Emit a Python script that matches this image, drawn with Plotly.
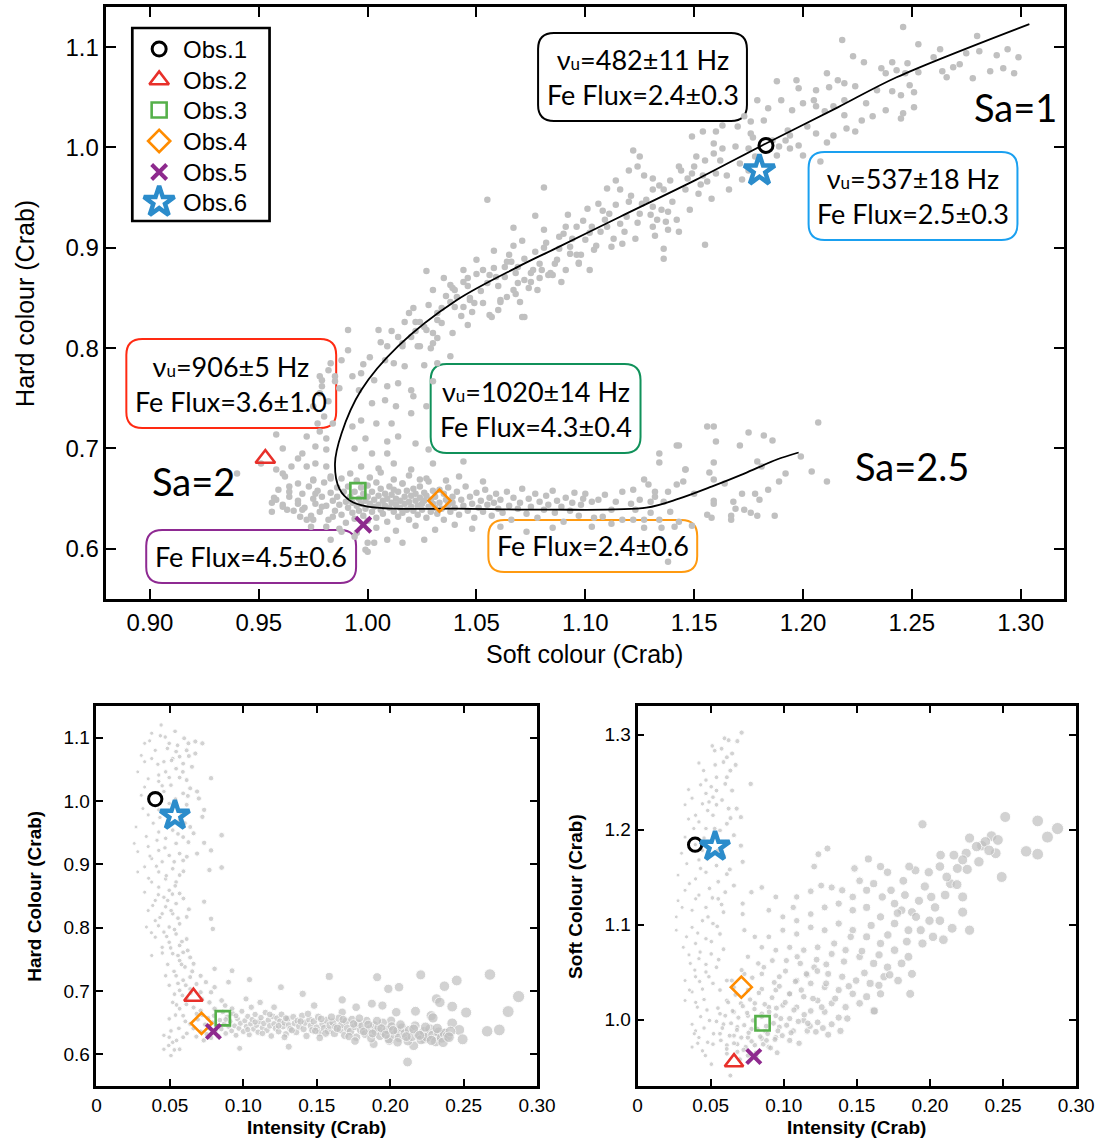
import plotly.graph_objects as go

W, H = 1101, 1139
PAGE_W = 1118  # page width; the capture is squeezed back to 1101 px

# ---------------- data ----------------
obs_names = ["Obs.1", "Obs.2", "Obs.3", "Obs.4", "Obs.5", "Obs.6"]
obs_soft_top = [1.183, 0.953, 0.9955, 1.033, 0.998, 1.180]
obs_hard_top = [1.002, 0.690, 0.658, 0.648, 0.624, 0.977]
obs_int_bl = [0.040, 0.066, 0.086, 0.0715, 0.0796, 0.0534]
obs_hard_bl = [1.003, 0.691, 0.657, 0.649, 0.636, 0.977]
obs_int_br = [0.0394, 0.066, 0.0855, 0.071, 0.0795, 0.053]
obs_soft_br = [1.184, 0.955, 0.996, 1.034, 0.961, 1.182]

# track drawn through the colour-colour diagram
track_soft = [1.304, 1.243, 1.216, 1.183, 1.151, 1.116, 1.085, 1.069, 1.041, 1.014, 0.997,
              0.988, 0.985, 0.987, 0.992, 1.000, 1.012, 1.040, 1.084, 1.128, 1.143, 1.158,
              1.173, 1.188, 1.198]
track_hard = [1.123, 1.070, 1.040, 1.004, 0.968, 0.931, 0.898, 0.881, 0.848, 0.802, 0.758,
              0.715, 0.685, 0.660, 0.648, 0.642, 0.640, 0.640, 0.639, 0.641, 0.650, 0.662,
              0.675, 0.689, 0.696]

# colour-colour diagram: (soft, hard)
cc_upper = [
    (1.246, 1.120), (1.218, 1.107), (1.253, 1.103), (1.280, 1.111), (1.263, 1.098), (1.294, 1.098),
    (1.289, 1.092), (1.299, 1.090), (1.275, 1.094), (1.260, 1.090), (1.223, 1.091), (1.228, 1.085),
    (1.241, 1.085), (1.248, 1.084), (1.253, 1.075), (1.264, 1.076), (1.269, 1.080), (1.272, 1.083),
    (1.281, 1.096), (1.286, 1.076), (1.292, 1.079), (1.297, 1.074), (1.278, 1.069), (1.266, 1.070),
    (1.236, 1.079), (1.243, 1.077), (1.211, 1.074), (1.216, 1.067), (1.219, 1.064), (1.197, 1.067),
    (1.188, 1.066), (1.206, 1.057), (1.198, 1.059), (1.212, 1.060), (1.224, 1.061), (1.234, 1.057),
    (1.241, 1.056), (1.245, 1.052), (1.251, 1.055), (1.249, 1.062), (1.247, 1.074), (1.238, 1.074),
    (1.229, 1.044), (1.219, 1.047), (1.214, 1.041), (1.210, 1.036), (1.219, 1.032), (1.227, 1.027),
    (1.232, 1.031), (1.238, 1.037), (1.245, 1.029), (1.251, 1.040), (1.246, 1.034), (1.224, 1.016),
    (1.220, 1.019), (1.214, 1.012), (1.211, 1.005), (1.206, 1.014), (1.202, 1.021), (1.194, 1.012),
    (1.192, 1.007), (1.189, 1.001), (1.194, 0.999), (1.198, 1.002), (1.200, 0.992), (1.208, 0.986),
    (1.188, 0.992), (1.193, 1.017), (1.195, 1.037), (1.200, 1.044), (1.206, 1.041), (1.205, 1.047),
    (1.190, 1.047), (1.184, 1.039), (1.179, 1.047), (1.182, 1.027), (1.176, 1.026), (1.173, 1.031),
    (1.170, 1.021), (1.163, 1.022), (1.160, 1.016), (1.154, 1.016), (1.149, 1.011), (1.159, 1.004),
    (1.163, 0.999), (1.159, 0.994), (1.155, 0.987), (1.151, 0.991), (1.149, 0.974), (1.144, 0.977),
    (1.143, 0.981), (1.154, 0.972), (1.160, 0.974), (1.165, 0.972), (1.171, 0.984), (1.175, 0.977),
    (1.178, 0.991), (1.175, 0.999), (1.176, 1.014), (1.186, 1.007), (1.152, 0.954), (1.158, 0.949),
    (1.153, 0.963), (1.147, 0.969), (1.139, 0.967), (1.136, 0.958), (1.131, 0.958), (1.131, 0.969),
    (1.127, 0.972), (1.125, 0.991), (1.122, 0.997), (1.120, 0.977), (1.124, 0.981), (1.116, 0.958),
    (1.114, 0.967), (1.110, 0.959), (1.120, 0.946), (1.126, 0.944), (1.131, 0.941), (1.135, 0.938),
    (1.138, 0.936), (1.133, 0.928), (1.137, 0.926), (1.131, 0.921), (1.143, 0.916), (1.138, 0.918),
    (1.130, 0.933), (1.125, 0.934), (1.119, 0.931), (1.116, 0.924), (1.109, 0.928), (1.111, 0.934),
    (1.106, 0.944), (1.101, 0.939), (1.103, 0.921), (1.107, 0.916), (1.113, 0.909), (1.117, 0.904),
    (1.112, 0.901), (1.104, 0.898), (1.100, 0.908), (1.096, 0.921), (1.092, 0.933), (1.090, 0.914),
    (1.088, 0.911), (1.093, 0.901), (1.096, 0.893), (1.097, 0.884), (1.091, 0.878), (1.085, 0.873),
    (1.123, 0.909), (1.136, 0.889), (1.155, 0.903), (1.136, 0.899),
    (1.046, 0.862), (1.050, 0.874), (1.052, 0.857), (1.058, 0.880), (1.060, 0.862), (1.063, 0.871),
    (1.065, 0.893), (1.068, 0.875), (1.072, 0.889), (1.074, 0.860), (1.077, 0.896), (1.079, 0.870),
    (1.082, 0.905), (1.086, 0.884), (1.088, 0.899), (1.091, 0.921), (1.094, 0.909), (1.098, 0.893),
    (1.099, 0.927), (1.102, 0.915), (1.105, 0.902), (1.108, 0.937), (1.110, 0.921), (1.114, 0.943),
    (1.118, 0.916), (1.121, 0.952), (1.124, 0.925), (1.128, 0.948), (1.132, 0.912), (1.134, 0.962),
    (1.140, 0.946), (1.142, 0.928), (1.146, 0.958), (1.148, 0.938), (1.150, 0.981), (1.156, 0.966),
    (1.162, 0.987), (1.166, 0.958), (1.169, 1.001), (1.172, 0.968), (1.177, 1.010), (1.043, 0.832),
    (1.036, 0.852), (1.028, 0.843), (1.021, 0.840), (1.017, 0.826), (1.011, 0.817), (1.006, 0.806),
    (1.001, 0.791), (0.998, 0.784), (1.044, 0.878), (1.050, 0.888), (1.058, 0.897), (1.035, 0.870),
    (1.030, 0.858), (1.048, 0.836), (1.053, 0.845), (1.064, 0.851), (1.078, 0.858), (1.089, 0.866),
]
cc_middle = [
    (1.055, 0.948), (1.081, 0.960), (1.077, 0.932), (1.067, 0.920), (1.081, 0.918), (1.071, 0.907),
    (1.067, 0.902), (1.081, 0.900), (1.027, 0.877), (1.063, 0.881), (1.066, 0.886), (1.046, 0.870),
    (1.059, 0.871), (1.055, 0.865), (1.069, 0.865), (1.072, 0.868), (1.075, 0.875), (1.080, 0.878),
    (1.083, 0.873), (1.067, 0.858), (1.068, 0.854), (1.061, 0.846), (1.070, 0.846), (1.060, 0.838),
    (1.071, 0.831), (1.057, 0.831), (1.039, 0.860), (1.041, 0.851), (1.038, 0.846), (1.047, 0.850),
    (1.049, 0.845), (1.044, 0.841), (1.034, 0.840), (1.032, 0.828), (1.024, 0.826), (1.019, 0.835),
    (1.022, 0.817), (1.027, 0.818), (1.032, 0.810), (1.039, 0.815), (1.046, 0.823), (1.030, 0.805),
    (1.024, 0.802), (1.005, 0.818), (0.991, 0.818), (1.016, 0.805), (1.009, 0.802),
    (1.038, 0.863), (1.040, 0.858), (1.044, 0.866), (1.053, 0.878), (1.056, 0.873), (1.064, 0.886),
    (1.069, 0.881), (1.076, 0.878), (1.079, 0.884), (1.084, 0.875), (1.087, 0.888), (1.093, 0.894),
    (1.097, 0.885), (1.102, 0.878), (1.075, 0.866), (1.061, 0.848), (1.056, 0.833), (1.072, 0.831),
    (1.047, 0.848), (1.040, 0.841), (1.032, 0.835), (1.034, 0.825), (1.030, 0.815), (1.026, 0.821),
    (1.022, 0.826), (1.020, 0.811), (1.023, 0.802), (1.029, 0.800), (1.038, 0.792), (1.032, 0.785),
    (1.016, 0.802), (1.014, 0.811), (1.008, 0.788), (1.012, 0.785), (1.017, 0.782), (1.026, 0.783),
    (1.030, 0.767), (1.020, 0.758), (1.014, 0.765), (1.009, 0.762), (1.003, 0.768), (0.997, 0.775),
    (0.993, 0.772), (0.996, 0.758), (1.002, 0.745), (1.008, 0.748), (1.013, 0.742), (1.021, 0.752),
    (1.027, 0.742), (1.020, 0.735), (1.011, 0.725), (1.004, 0.725), (0.997, 0.728), (0.993, 0.722),
    (0.999, 0.710), (1.009, 0.707), (1.014, 0.712), (1.022, 0.705), (1.028, 0.699), (1.009, 0.695),
    (1.002, 0.695), (0.994, 0.700), (0.997, 0.682), (1.005, 0.680), (1.012, 0.685), (1.020, 0.679),
    (1.030, 0.685), (1.044, 0.687), (1.024, 0.669), (1.016, 0.665), (0.991, 0.798), (0.988, 0.788),
    (0.985, 0.772), (0.982, 0.778), (0.979, 0.768), (0.978, 0.755), (0.982, 0.747), (0.975, 0.742),
    (0.980, 0.732), (0.984, 0.725), (0.978, 0.717), (0.972, 0.712), (0.976, 0.702), (0.981, 0.699),
    (0.970, 0.695), (0.965, 0.682), (0.976, 0.685), (0.981, 0.682), (0.962, 0.672), (0.968, 0.665),
    (0.975, 0.669), (0.959, 0.659), (0.964, 0.652), (0.956, 0.646), (0.961, 0.642), (0.970, 0.639),
    (0.968, 0.645), (0.976, 0.655), (0.979, 0.642), (0.984, 0.632), (0.975, 0.629), (0.981, 0.622),
    (0.988, 0.617), (0.994, 0.612), (1.000, 0.597), (1.003, 0.606), (1.009, 0.609), (1.016, 0.606),
    (1.026, 0.609), (0.985, 0.767), (0.961, 0.700), (0.958, 0.679), (0.951, 0.685), (0.987, 0.760),
    (0.940, 0.675), (0.958, 0.714), (0.968, 0.690), (0.972, 0.682), (0.961, 0.675), (0.964, 0.662),
    (0.958, 0.649), (0.956, 0.637), (0.963, 0.639), (0.969, 0.632), (0.974, 0.622), (0.972, 0.629),
    (0.983, 0.609), (0.983, 0.670), (0.981, 0.710), (0.977, 0.725), (0.979, 0.762), (0.978, 0.772),
    (0.983, 0.785), (0.999, 0.599), (1.000, 0.606),
]
cc_lower = [
    (0.957, 0.651), (0.961, 0.644), (0.964, 0.657), (0.966, 0.638), (0.968, 0.648), (0.970, 0.655),
    (0.971, 0.641), (0.973, 0.662), (0.974, 0.633), (0.975, 0.650), (0.976, 0.645), (0.977, 0.658),
    (0.978, 0.637), (0.979, 0.652), (0.980, 0.666), (0.981, 0.643), (0.982, 0.629), (0.983, 0.656),
    (0.984, 0.648), (0.985, 0.638), (0.986, 0.661), (0.986, 0.652), (0.987, 0.644), (0.988, 0.670),
    (0.988, 0.634), (0.989, 0.657), (0.990, 0.647), (0.990, 0.626), (0.991, 0.641), (0.991, 0.662),
    (0.992, 0.652), (0.993, 0.636), (0.993, 0.646), (0.994, 0.657), (0.994, 0.630), (0.995, 0.668),
    (0.995, 0.643), (0.996, 0.650), (0.996, 0.638), (0.997, 0.661), (0.997, 0.645), (0.998, 0.633),
    (0.998, 0.655), (0.999, 0.648), (0.999, 0.640), (1.000, 0.663), (1.000, 0.652), (1.000, 0.628),
    (1.001, 0.645), (1.002, 0.637), (1.002, 0.657), (1.003, 0.649), (1.003, 0.642), (1.004, 0.666),
    (1.004, 0.631), (1.005, 0.653), (1.005, 0.644), (1.006, 0.639), (1.006, 0.660), (1.007, 0.648),
    (1.007, 0.635), (1.008, 0.655), (1.008, 0.643), (1.009, 0.650), (1.009, 0.627), (1.010, 0.641),
    (1.010, 0.662), (1.011, 0.646), (1.011, 0.654), (1.012, 0.637), (1.012, 0.659), (1.013, 0.644),
    (1.013, 0.650), (1.014, 0.632), (1.014, 0.657), (1.015, 0.641), (1.015, 0.648), (1.016, 0.665),
    (1.016, 0.636), (1.017, 0.652), (1.017, 0.645), (1.018, 0.639), (1.018, 0.658), (1.019, 0.647),
    (1.019, 0.629), (1.020, 0.653), (1.020, 0.642), (1.021, 0.660), (1.021, 0.638), (1.022, 0.648),
    (1.022, 0.655), (1.023, 0.643), (1.023, 0.634), (1.024, 0.651), (1.024, 0.662), (1.025, 0.645),
    (1.025, 0.639), (1.026, 0.656), (1.026, 0.648), (1.027, 0.631), (1.027, 0.653), (1.028, 0.642),
    (1.028, 0.667), (1.029, 0.649), (1.029, 0.637), (1.030, 0.658), (1.030, 0.645), (1.031, 0.641),
    (1.031, 0.652), (1.032, 0.635), (1.033, 0.659), (1.033, 0.646), (1.034, 0.640), (1.035, 0.655),
    (1.035, 0.629), (1.036, 0.649), (1.037, 0.644), (1.037, 0.661), (1.038, 0.637), (1.039, 0.652),
    (1.039, 0.646), (1.040, 0.641), (1.041, 0.657), (1.042, 0.634), (1.043, 0.649), (1.044, 0.643),
    (1.045, 0.662), (1.046, 0.638), (1.047, 0.652), (1.048, 0.645), (1.049, 0.631), (1.050, 0.656),
    (1.051, 0.641), (1.052, 0.648), (1.053, 0.637), (1.054, 0.659), (1.055, 0.644), (1.056, 0.651),
    (1.057, 0.633), (1.058, 0.646), (1.059, 0.655), (1.060, 0.640), (1.061, 0.649), (1.062, 0.636),
    (1.064, 0.657), (1.065, 0.643), (1.066, 0.629), (1.067, 0.651), (1.069, 0.640), (1.070, 0.646),
    (1.071, 0.660), (1.073, 0.635), (1.074, 0.650), (1.075, 0.642), (1.077, 0.655), (1.078, 0.631),
    (1.079, 0.647), (1.081, 0.639), (1.082, 0.653), (1.083, 0.644), (1.085, 0.658), (1.086, 0.636),
    (1.087, 0.648), (1.089, 0.642), (1.090, 0.627), (1.091, 0.651), (1.093, 0.638), (1.094, 0.646),
    (1.095, 0.656), (1.097, 0.633), (1.098, 0.644), (1.099, 0.650), (0.975, 0.668), (0.983, 0.672),
    (0.992, 0.675), (1.001, 0.671), (1.006, 0.676), (1.012, 0.669), (1.019, 0.673), (1.027, 0.670),
    (1.036, 0.668), (1.042, 0.672), (1.053, 0.667), (0.987, 0.620), (0.995, 0.616), (1.004, 0.621),
    (1.013, 0.618), (1.022, 0.623), (1.031, 0.619), (1.040, 0.624), (1.048, 0.620), (1.061, 0.622),
    (1.073, 0.617), (1.085, 0.621),
]
cc_tail = [
    (1.156, 0.722), (1.159, 0.722), (1.175, 0.716), (1.182, 0.713), (1.186, 0.708), (1.207, 0.726),
    (1.160, 0.707), (1.171, 0.703), (1.142, 0.703), (1.134, 0.695), (1.134, 0.686), (1.159, 0.686),
    (1.179, 0.687), (1.181, 0.682), (1.192, 0.675), (1.199, 0.692), (1.204, 0.677), (1.211, 0.667),
    (1.189, 0.667), (1.146, 0.679), (1.157, 0.676), (1.159, 0.669), (1.164, 0.665), (1.145, 0.667),
    (1.142, 0.664), (1.127, 0.669), (1.184, 0.659), (1.178, 0.655), (1.180, 0.649), (1.172, 0.655),
    (1.168, 0.647), (1.159, 0.648), (1.159, 0.645), (1.169, 0.640), (1.173, 0.639), (1.176, 0.636),
    (1.179, 0.633), (1.187, 0.633), (1.167, 0.633), (1.167, 0.629), (1.156, 0.634), (1.158, 0.631),
    (1.150, 0.655), (1.138, 0.657), (1.136, 0.647), (1.132, 0.657), (1.130, 0.647), (1.117, 0.657),
    (1.122, 0.659), (1.125, 0.649), (1.121, 0.645), (1.114, 0.647), (1.109, 0.654), (1.106, 0.649),
    (1.103, 0.647), (1.100, 0.655), (1.112, 0.639), (1.108, 0.632), (1.104, 0.631), (1.112, 0.625),
    (1.117, 0.629), (1.122, 0.629), (1.127, 0.629), (1.127, 0.621), (1.134, 0.629), (1.139, 0.637),
    (1.135, 0.621), (1.143, 0.627), (1.149, 0.623), (1.141, 0.622), (1.130, 0.636), (1.123, 0.639),
    (1.103, 0.622), (1.138, 0.587), (1.129, 0.664), (1.132, 0.652), (1.143, 0.703), (1.146, 0.679),
]

# intensity vs hard colour: (intensity, hard)
ih_vertical = [
    (0.0440, 1.120), (0.0535, 1.110), (0.0376, 1.107), (0.0435, 1.103), (0.0597, 1.099), (0.0673, 1.094),
    (0.0721, 1.091), (0.0626, 1.091), (0.0495, 1.091), (0.0328, 1.091), (0.0400, 1.080), (0.0483, 1.083),
    (0.0542, 1.078), (0.0614, 1.080), (0.0673, 1.075), (0.0566, 1.070), (0.0519, 1.067), (0.0459, 1.062),
    (0.0376, 1.067), (0.0328, 1.062), (0.0590, 1.059), (0.0650, 1.054), (0.0542, 1.051), (0.0471, 1.046),
    (0.0424, 1.041), (0.0495, 1.037), (0.0281, 1.046), (0.0566, 1.037), (0.0614, 1.033), (0.0780, 1.036),
    (0.0424, 1.031), (0.0507, 1.025), (0.0328, 1.022), (0.0638, 1.020), (0.0685, 1.015), (0.0459, 1.015),
    (0.0590, 1.012), (0.0305, 1.009), (0.0697, 1.004), (0.0495, 0.996), (0.0614, 0.994), (0.0316, 0.988),
    (0.0733, 0.986), (0.0352, 0.978), (0.0424, 0.986), (0.0721, 0.975), (0.0566, 0.970), (0.0269, 0.959),
    (0.0638, 0.959), (0.0519, 0.954), (0.0424, 0.951), (0.0661, 0.949), (0.0852, 0.946), (0.0590, 0.943),
    (0.0471, 0.941), (0.0542, 0.933), (0.0257, 0.933), (0.0626, 0.935), (0.0733, 0.934), (0.0352, 0.928),
    (0.0424, 0.922), (0.0780, 0.922), (0.0281, 0.920), (0.0566, 0.917), (0.0685, 0.917), (0.0495, 0.914),
    (0.0376, 0.909), (0.0590, 0.906), (0.0447, 0.904), (0.0852, 0.895), (0.0328, 0.896), (0.0519, 0.893),
    (0.0424, 0.888), (0.0281, 0.888), (0.0769, 0.891), (0.0566, 0.883), (0.0471, 0.877), (0.0376, 0.872),
    (0.0542, 0.872), (0.0424, 0.864), (0.0328, 0.856), (0.0495, 0.859), (0.0566, 0.854), (0.0459, 0.848),
    (0.0400, 0.843), (0.0542, 0.838), (0.0733, 0.841), (0.0471, 0.833), (0.0352, 0.827), (0.0447, 0.822),
    (0.0519, 0.822), (0.0614, 0.817), (0.0780, 0.814), (0.0400, 0.811), (0.0566, 0.806), (0.0495, 0.801),
    (0.0340, 0.801), (0.0459, 0.793), (0.0542, 0.790), (0.0792, 0.798), (0.0614, 0.782), (0.0400, 0.785),
    (0.0495, 0.777), (0.0566, 0.772), (0.0447, 0.769), (0.0590, 0.761), (0.0519, 0.759), (0.0376, 0.756),
    (0.0638, 0.753), (0.0566, 0.748), (0.0661, 0.743), (0.0804, 0.735), (0.0923, 0.732), (0.0602, 0.738),
    (0.0471, 0.724), (0.0542, 0.724), (0.0638, 0.722), (0.0709, 0.724), (0.0590, 0.717), (0.0745, 0.714),
    (0.0495, 0.709), (0.0638, 0.703), (0.0566, 0.701), (0.0804, 0.706), (0.0899, 0.714), (0.0709, 0.698),
    (0.0780, 0.698), (0.0614, 0.688), (0.0519, 0.682), (0.0769, 0.682), (0.0852, 0.685), (0.0661, 0.674),
    (0.0566, 0.672), (0.0590, 0.661), (0.0495, 0.656), (0.0638, 0.648), (0.0507, 0.637), (0.0590, 0.627),
    (0.0519, 0.619), (0.0459, 0.608), (0.0507, 0.598), (0.0566, 0.608), (0.0459, 0.630), (0.0709, 0.669),
    (0.0804, 0.672), (0.0876, 0.677), (0.0923, 0.672),
    (0.0305, 1.072), (0.0362, 1.095), (0.0418, 1.058), (0.0468, 1.101), (0.0511, 1.064), (0.0552, 1.088),
    (0.0588, 1.046), (0.0629, 1.071), (0.0352, 1.035), (0.0398, 1.012), (0.0447, 1.024), (0.0538, 1.003),
    (0.0577, 0.981), (0.0622, 1.008), (0.0386, 0.965), (0.0432, 0.974), (0.0489, 0.962), (0.0555, 0.948),
    (0.0602, 0.965), (0.0339, 0.944), (0.0412, 0.938), (0.0466, 0.926), (0.0529, 0.904), (0.0615, 0.912),
    (0.0364, 0.913), (0.0408, 0.897), (0.0475, 0.882), (0.0536, 0.866), (0.0592, 0.889), (0.0355, 0.878),
    (0.0421, 0.852), (0.0485, 0.843), (0.0517, 0.853), (0.0592, 0.846), (0.0383, 0.835), (0.0432, 0.816),
    (0.0508, 0.827), (0.0555, 0.815), (0.0629, 0.829), (0.0374, 0.792), (0.0422, 0.803), (0.0478, 0.786),
    (0.0531, 0.797), (0.0582, 0.778), (0.0448, 0.760), (0.0505, 0.768), (0.0555, 0.756), (0.0621, 0.764),
    (0.0485, 0.742), (0.0528, 0.731), (0.0579, 0.742), (0.0652, 0.731), (0.0555, 0.712), (0.0608, 0.709),
    (0.0681, 0.711), (0.0531, 0.695), (0.0585, 0.693), (0.0641, 0.697), (0.0718, 0.687), (0.0545, 0.678),
    (0.0612, 0.679), (0.0682, 0.664), (0.0538, 0.662), (0.0605, 0.652), (0.0561, 0.641), (0.0615, 0.633),
    (0.0545, 0.622), (0.0495, 0.627), (0.0492, 0.614), (0.0530, 0.607),
]
ih_horizontal = [
    (0.2208, 0.7255), (0.1911, 0.7218), (0.2453, 0.7166), (0.2369, 0.7076), (0.1987, 0.7034), (0.2060, 0.706),
    (0.2874, 0.6912), (0.2679, 0.726), (0.1585, 0.723), (0.1042, 0.718), (0.1256, 0.706), (0.1404, 0.6955),
    (0.1673, 0.686), (0.2315, 0.6875), (0.2338, 0.682), (0.1875, 0.680), (0.1947, 0.677), (0.2422, 0.6754),
    (0.2517, 0.666), (0.2803, 0.6675), (0.2172, 0.668), (0.2041, 0.6665), (0.2279, 0.661), (0.2291, 0.6575),
    (0.2006, 0.653), (0.2422, 0.649), (0.2470, 0.6385), (0.2660, 0.6364), (0.2743, 0.6385), (0.2493, 0.6237),
    (0.2160, 0.6137), (0.2118, 0.5879), (0.2338, 0.6306), (0.2374, 0.6332), (0.2232, 0.6243), (0.1768, 0.6744),
    (0.1673, 0.6665), (0.1482, 0.677), (0.1304, 0.656), (0.1209, 0.6744), (0.1114, 0.682), (0.1018, 0.6875),
    (0.1054, 0.6744), (0.0975, 0.6095), (0.1309, 0.612), (0.1887, 0.6164), (0.1994, 0.6216),
    (0.066, 0.641), (0.068, 0.628), (0.069, 0.655), (0.071, 0.636), (0.072, 0.662), (0.073, 0.622),
    (0.074, 0.647), (0.075, 0.632), (0.076, 0.657), (0.077, 0.641), (0.078, 0.626), (0.079, 0.650),
    (0.080, 0.661), (0.081, 0.637), (0.082, 0.645), (0.083, 0.629), (0.084, 0.654), (0.085, 0.640),
    (0.086, 0.667), (0.087, 0.648), (0.088, 0.633), (0.089, 0.659), (0.090, 0.644), (0.091, 0.652),
    (0.092, 0.637), (0.093, 0.664), (0.094, 0.645), (0.095, 0.630), (0.096, 0.656), (0.097, 0.641),
    (0.098, 0.649), (0.099, 0.668), (0.100, 0.636), (0.101, 0.653), (0.102, 0.644), (0.103, 0.660),
    (0.104, 0.631), (0.105, 0.648), (0.106, 0.655), (0.107, 0.640), (0.108, 0.663), (0.109, 0.646),
    (0.110, 0.635), (0.111, 0.652), (0.112, 0.658), (0.113, 0.642), (0.114, 0.649), (0.115, 0.666),
    (0.116, 0.638), (0.117, 0.654), (0.118, 0.645), (0.119, 0.629), (0.120, 0.660), (0.121, 0.648),
    (0.122, 0.641), (0.123, 0.657), (0.124, 0.636), (0.125, 0.652), (0.126, 0.663), (0.127, 0.644),
    (0.128, 0.650), (0.129, 0.632), (0.130, 0.656), (0.131, 0.646), (0.132, 0.640), (0.134, 0.659),
    (0.135, 0.649), (0.136, 0.635), (0.137, 0.653), (0.138, 0.644), (0.140, 0.661), (0.141, 0.640),
    (0.142, 0.650), (0.143, 0.629), (0.145, 0.655), (0.146, 0.645), (0.147, 0.638), (0.148, 0.652),
    (0.150, 0.642), (0.151, 0.659), (0.152, 0.634), (0.154, 0.648), (0.155, 0.641), (0.157, 0.654),
    (0.158, 0.637), (0.159, 0.646), (0.161, 0.651), (0.162, 0.633), (0.163, 0.643), (0.165, 0.657),
    (0.166, 0.639), (0.167, 0.647), (0.169, 0.630), (0.170, 0.652), (0.171, 0.641), (0.173, 0.636),
    (0.174, 0.655), (0.176, 0.644), (0.177, 0.627), (0.178, 0.649), (0.180, 0.638), (0.181, 0.645),
    (0.183, 0.632), (0.184, 0.653), (0.186, 0.640), (0.187, 0.625), (0.189, 0.646), (0.190, 0.636),
    (0.192, 0.642), (0.193, 0.629), (0.195, 0.650), (0.196, 0.634), (0.198, 0.639), (0.199, 0.624),
    (0.201, 0.644), (0.203, 0.631), (0.205, 0.637), (0.206, 0.626), (0.208, 0.642), (0.210, 0.633),
    (0.212, 0.621), (0.213, 0.638), (0.215, 0.628), (0.217, 0.645), (0.219, 0.632), (0.221, 0.623),
    (0.223, 0.636), (0.225, 0.627), (0.227, 0.640), (0.229, 0.630), (0.231, 0.620), (0.233, 0.635),
    (0.235, 0.626), (0.237, 0.633), (0.239, 0.629), (0.241, 0.636),
    (0.088, 0.655), (0.095, 0.661), (0.103, 0.639), (0.108, 0.651), (0.113, 0.633), (0.118, 0.663),
    (0.124, 0.645), (0.129, 0.657), (0.133, 0.638), (0.139, 0.652), (0.144, 0.664), (0.149, 0.637),
    (0.153, 0.656), (0.156, 0.633), (0.160, 0.659), (0.164, 0.641), (0.168, 0.655), (0.172, 0.628),
    (0.175, 0.648), (0.179, 0.657), (0.182, 0.636), (0.185, 0.647), (0.188, 0.633), (0.191, 0.653),
    (0.194, 0.641), (0.197, 0.631), (0.202, 0.638), (0.207, 0.647), (0.211, 0.628), (0.216, 0.640),
    (0.220, 0.630), (0.224, 0.643), (0.228, 0.622), (0.232, 0.641), (0.236, 0.619), (0.240, 0.627),
    (0.205, 0.619), (0.176, 0.621), (0.152, 0.626), (0.128, 0.627),
]

# intensity vs soft colour: (intensity, soft)
is_vertical = [
    (0.0712, 1.302), (0.0683, 1.293), (0.0595, 1.296), (0.0623, 1.294), (0.0511, 1.288), (0.0647, 1.280),
    (0.0528, 1.283), (0.0611, 1.276), (0.0671, 1.268), (0.0588, 1.271), (0.0420, 1.270), (0.0635, 1.262),
    (0.0540, 1.255), (0.0468, 1.252), (0.0611, 1.255), (0.0600, 1.248), (0.0774, 1.248), (0.0432, 1.247),
    (0.0504, 1.245), (0.0349, 1.242), (0.0540, 1.241), (0.0647, 1.241), (0.0468, 1.238), (0.0373, 1.233),
    (0.0516, 1.234), (0.0444, 1.227), (0.0540, 1.226), (0.0325, 1.226), (0.0623, 1.222), (0.0480, 1.220),
    (0.0678, 1.222), (0.0397, 1.215), (0.0516, 1.215), (0.0707, 1.213), (0.0349, 1.211), (0.0420, 1.208),
    (0.0611, 1.206), (0.0564, 1.199), (0.0468, 1.201), (0.0659, 1.194), (0.0707, 1.183), (0.0325, 1.192),
    (0.0611, 1.187), (0.0444, 1.178), (0.0301, 1.175), (0.0719, 1.166), (0.0420, 1.168), (0.0337, 1.164),
    (0.0540, 1.162), (0.0468, 1.155), (0.0611, 1.153), (0.0277, 1.152), (0.0397, 1.148), (0.0552, 1.145),
    (0.0659, 1.141), (0.0492, 1.138), (0.0325, 1.136), (0.0600, 1.134), (0.0420, 1.131), (0.0277, 1.125),
    (0.0552, 1.127), (0.0719, 1.122), (0.0468, 1.118), (0.0373, 1.115), (0.0588, 1.113), (0.0265, 1.108),
    (0.0444, 1.104), (0.0516, 1.101), (0.0373, 1.097), (0.0265, 1.094), (0.0564, 1.090), (0.0468, 1.085),
    (0.0397, 1.080), (0.0313, 1.076), (0.0588, 1.074), (0.0504, 1.069), (0.0420, 1.064), (0.0361, 1.059),
    (0.0540, 1.055), (0.0468, 1.050), (0.0397, 1.045), (0.0325, 1.041), (0.0516, 1.038), (0.0611, 1.041),
    (0.0444, 1.032), (0.0373, 1.029), (0.0325, 1.020), (0.0409, 1.013), (0.0373, 0.995), (0.0397, 0.988),
    (0.0420, 0.981), (0.0373, 0.971), (0.0444, 0.967), (0.0480, 0.976), (0.0850, 1.139), (0.0779, 1.134),
    (0.0719, 1.111), (0.0731, 1.094),
    (0.0452, 1.262), (0.0531, 1.268), (0.0575, 1.285), (0.0489, 1.229), (0.0578, 1.231), (0.0636, 1.212),
    (0.0385, 1.201), (0.0455, 1.191), (0.0528, 1.201), (0.0592, 1.172), (0.0395, 1.184), (0.0478, 1.169),
    (0.0548, 1.178), (0.0631, 1.158), (0.0355, 1.143), (0.0431, 1.159), (0.0512, 1.128), (0.0575, 1.121),
    (0.0305, 1.118), (0.0398, 1.127), (0.0482, 1.108), (0.0545, 1.098), (0.0335, 1.087), (0.0412, 1.091),
    (0.0505, 1.082), (0.0428, 1.071), (0.0352, 1.068), (0.0468, 1.058), (0.0555, 1.063), (0.0392, 1.052),
    (0.0425, 1.040), (0.0488, 1.045), (0.0355, 1.031), (0.0455, 1.021), (0.0398, 1.018), (0.0475, 1.010),
    (0.0432, 1.003), (0.0388, 0.985), (0.0455, 0.991), (0.0412, 0.975), (0.0464, 0.962), (0.0505, 0.953),
]
is_wedge = [
    (0.1949, 1.2055), (0.2515, 1.2132), (0.2737, 1.209), (0.2873, 1.201), (0.2804, 1.192), (0.2658, 1.177),
    (0.2737, 1.174), (0.2491, 1.150), (0.2450, 1.175), (0.2355, 1.183), (0.2271, 1.191), (0.2421, 1.193),
    (0.2379, 1.187), (0.2319, 1.182), (0.2248, 1.175), (0.2224, 1.168), (0.2164, 1.173), (0.2073, 1.173),
    (0.2188, 1.159), (0.2068, 1.161), (0.1992, 1.155), (0.1901, 1.157), (0.1858, 1.161), (0.1818, 1.146),
    (0.1710, 1.155), (0.1579, 1.169), (0.1484, 1.159), (0.1299, 1.180), (0.1237, 1.174), (0.1208, 1.161),
    (0.1662, 1.161), (0.1519, 1.146), (0.1615, 1.143), (0.1734, 1.136), (0.1829, 1.131), (0.1925, 1.125),
    (0.2009, 1.129), (0.2104, 1.131), (0.2140, 1.143), (0.2224, 1.129), (0.2224, 1.113), (0.2271, 1.094),
    (0.2152, 1.096), (0.2092, 1.084), (0.2068, 1.104), (0.1997, 1.104), (0.1937, 1.094), (0.1877, 1.113),
    (0.1806, 1.115), (0.1758, 1.122), (0.1674, 1.129), (0.1567, 1.136), (0.1472, 1.129), (0.1400, 1.136),
    (0.1328, 1.139), (0.1256, 1.141), (0.1185, 1.135), (0.1089, 1.129), (0.1065, 1.118), (0.0946, 1.129),
    (0.0898, 1.115), (0.0994, 1.108), (0.1089, 1.104), (0.1185, 1.111), (0.1280, 1.118), (0.1376, 1.122),
    (0.1472, 1.115), (0.1567, 1.118), (0.1662, 1.108), (0.1758, 1.101), (0.1853, 1.094), (0.1949, 1.080),
    (0.2021, 1.087), (0.1853, 1.066), (0.1758, 1.073), (0.1662, 1.080), (0.1567, 1.087), (0.1472, 1.094),
    (0.1376, 1.101), (0.1280, 1.094), (0.1185, 1.097), (0.1089, 1.090), (0.0994, 1.094), (0.0898, 1.087),
    (0.0802, 1.087), (0.0850, 1.076), (0.0946, 1.073), (0.1041, 1.076), (0.1137, 1.073), (0.1232, 1.076),
    (0.1328, 1.069), (0.1423, 1.073), (0.1519, 1.066), (0.1615, 1.059), (0.1710, 1.055), (0.1806, 1.059),
    (0.1877, 1.048), (0.1782, 1.041), (0.1686, 1.045), (0.1591, 1.038), (0.1495, 1.041), (0.1400, 1.045),
    (0.1304, 1.048), (0.1208, 1.055), (0.1113, 1.059), (0.1018, 1.062), (0.0922, 1.062), (0.0826, 1.059),
    (0.0755, 1.066), (0.0731, 1.048), (0.0850, 1.048), (0.0970, 1.045), (0.1089, 1.041), (0.1185, 1.038),
    (0.1280, 1.034), (0.1376, 1.031), (0.1472, 1.027), (0.1567, 1.024), (0.1662, 1.027), (0.1865, 1.027),
    (0.1615, 1.009), (0.1519, 1.017), (0.1423, 1.013), (0.1328, 1.017), (0.1232, 1.020), (0.1137, 1.024),
    (0.1041, 1.027), (0.0946, 1.031), (0.0850, 1.032), (0.0755, 1.031), (0.0659, 1.034), (0.0564, 1.031),
    (0.0611, 1.020), (0.0707, 1.017), (0.0802, 1.017), (0.0898, 1.013), (0.0994, 1.015), (0.1089, 1.013),
    (0.1185, 1.009), (0.1280, 1.008), (0.1376, 1.002), (0.1435, 1.001), (0.1328, 0.995), (0.1232, 0.997),
    (0.1137, 0.999), (0.1041, 1.001), (0.0946, 1.004), (0.0850, 1.006), (0.0755, 1.004), (0.0659, 1.008),
    (0.0564, 1.006), (0.0492, 0.999), (0.0588, 0.995), (0.0683, 0.992), (0.0779, 0.990), (0.0874, 0.988),
    (0.0970, 0.992), (0.1065, 0.988), (0.1161, 0.988), (0.1220, 0.987), (0.1388, 0.988), (0.1304, 0.984),
    (0.1041, 0.978), (0.0946, 0.981), (0.0850, 0.980), (0.0755, 0.981), (0.0659, 0.983), (0.0564, 0.985),
    (0.0516, 0.974), (0.0611, 0.973), (0.0683, 0.974), (0.0802, 0.973), (0.0898, 0.971), (0.0611, 0.964),
    (0.0683, 0.966), (0.0755, 0.962), (0.0635, 0.941), (0.1620, 1.009),
    (0.052, 0.985), (0.054, 0.998), (0.055, 1.012), (0.057, 0.978), (0.058, 0.991), (0.060, 1.004),
    (0.061, 0.969), (0.062, 1.018), (0.063, 0.983), (0.064, 0.996), (0.065, 1.009), (0.066, 0.975),
    (0.067, 1.026), (0.068, 0.989), (0.069, 1.002), (0.070, 0.958), (0.071, 0.981), (0.072, 1.014),
    (0.073, 0.994), (0.074, 0.971), (0.075, 1.007), (0.076, 0.986), (0.077, 1.021), (0.078, 0.977),
    (0.079, 0.999), (0.080, 1.011), (0.081, 0.965), (0.082, 0.990), (0.083, 1.028), (0.084, 0.982),
    (0.085, 1.003), (0.086, 0.974), (0.087, 1.016), (0.088, 0.993), (0.089, 0.985), (0.090, 1.008),
    (0.091, 0.970), (0.092, 1.023), (0.093, 0.996), (0.094, 0.979), (0.095, 1.012), (0.096, 0.988),
    (0.097, 1.035), (0.098, 1.001), (0.099, 0.983), (0.101, 1.018), (0.102, 0.994), (0.104, 1.027),
    (0.105, 0.986), (0.107, 1.010), (0.108, 1.040), (0.110, 0.998), (0.112, 1.031), (0.114, 1.005),
    (0.116, 1.047), (0.118, 0.993), (0.120, 1.022), (0.123, 1.051), (0.126, 1.013), (0.129, 1.038),
    (0.0645, 1.041), (0.0712, 1.052), (0.0785, 1.044), (0.0864, 1.055), (0.0935, 1.039), (0.1012, 1.051),
    (0.1092, 1.066), (0.1155, 1.048), (0.1225, 1.063), (0.1291, 1.058), (0.1345, 1.080), (0.1412, 1.061),
    (0.1458, 1.087), (0.1535, 1.072), (0.1598, 1.099), (0.1652, 1.068), (0.1712, 1.089), (0.1778, 1.112),
    (0.1842, 1.082), (0.1905, 1.108), (0.1965, 1.140), (0.2035, 1.118), (0.2115, 1.150), (0.2185, 1.142),
    (0.2255, 1.158), (0.2335, 1.166), (0.2405, 1.178), (0.2465, 1.189), (0.0725, 0.968), (0.0812, 0.961),
    (0.0882, 0.978), (0.0955, 0.965), (0.1105, 0.975), (0.1165, 0.996), (0.1268, 0.991), (0.1352, 1.022),
    (0.1445, 1.035), (0.1552, 1.049), (0.1651, 1.036), (0.1725, 1.047),
]

soft_ticks = [0.90, 0.95, 1.00, 1.05, 1.10, 1.15, 1.20, 1.25, 1.30]
hard_ticks = [0.6, 0.7, 0.8, 0.9, 1.0, 1.1]
soft_ticks_b = [1.0, 1.1, 1.2, 1.3]
int_ticks = [0, 0.05, 0.10, 0.15, 0.20, 0.25, 0.30]
int_ticktext = ["0", "0.05", "0.10", "0.15", "0.20", "0.25", "0.30"]

box_texts = [
    "ν<span style='font-size:17px'>u</span>=482±11 Hz<br>Fe Flux=2.4±0.3",
    "ν<span style='font-size:17px'>u</span>=537±18 Hz<br>Fe Flux=2.5±0.3",
    "ν<span style='font-size:17px'>u</span>=906±5 Hz<br>Fe Flux=3.6±1.0",
    "ν<span style='font-size:17px'>u</span>=1020±14 Hz<br>Fe Flux=4.3±0.4",
    "Fe Flux=4.5±0.6",
    "Fe Flux=2.4±0.6",
]

# ---------------- styling ----------------
GREY = "#c0c0c0"
TICKFONT = "Liberation Sans, Arial, sans-serif"
GILL = "Lato, Open Sans, sans-serif"
obs_style = [
    ("circle-open", "#000000", 14, 3.0),
    ("triangle-up-open", "#e8302a", 17, 2.6),
    ("square-open", "#55b04a", 15, 2.6),
    ("diamond-open", "#ff8c00", 17, 2.6),
    ("x-thin", "#8e2a8e", 15, 4.0),
    ("star-open", "#2b8ccb", 23, 4.5),
]
box_colors = ["#000000", "#1aa0f0", "#ff2a12", "#10915a", "#8e2a92", "#ff9a10"]
# box corners in pixels (left, top, right, bottom)
box_px = [(536, 33, 746, 121), (808, 152, 1018, 240), (122, 339, 333, 428),
          (428, 364, 639, 453), (142, 530, 353, 583), (486, 520, 696, 572)]
# legend frame in pixels and row offsets inside it
leg_px = (128, 28, 266, 221)
leg_rows = [21, 52, 82, 113, 144, 174]


def unzip(pts):
    return [p[0] for p in pts], [p[1] for p in pts]


def px(x):
    return x / W


def py(y):
    return 1 - y / H


def rounded_box(x0, y0, x1, y1, color, r=16):
    def P(x, y):
        return f"{px(x):.5f},{py(y):.5f}"
    path = (f"M {P(x0 + r, y0)} L {P(x1 - r, y0)} Q {P(x1, y0)} {P(x1, y0 + r)} "
            f"L {P(x1, y1 - r)} Q {P(x1, y1)} {P(x1 - r, y1)} L {P(x0 + r, y1)} "
            f"Q {P(x0, y1)} {P(x0, y1 - r)} L {P(x0, y0 + r)} Q {P(x0, y0)} {P(x0 + r, y0)} Z")
    return dict(type="path", xref="paper", yref="paper", path=path,
                line=dict(color=color, width=2), layer="below")


fig = go.Figure()

# top panel: colour-colour diagram
sx, hy = unzip(cc_upper + cc_middle + cc_lower + cc_tail)
fig.add_trace(go.Scatter(x=sx, y=hy, mode="markers", hoverinfo="skip",
                         marker=dict(color=GREY, size=6.5), xaxis="x", yaxis="y"))
fig.add_trace(go.Scatter(x=track_soft, y=track_hard, mode="lines",
                         line=dict(color="black", width=1.8, shape="spline", smoothing=0.9),
                         xaxis="x", yaxis="y"))

# bottom-left: intensity vs hard colour
ix, hy2 = unzip(ih_vertical + ih_horizontal)
fig.add_trace(go.Scatter(x=ix, y=hy2, mode="markers", hoverinfo="skip",
                         marker=dict(color=GREY, size=[3 + 32 * v for v in ix]),
                         xaxis="x2", yaxis="y2"))

# bottom-right: intensity vs soft colour
ix3, sy3 = unzip(is_vertical + is_wedge)
fig.add_trace(go.Scatter(x=ix3, y=sy3, mode="markers", hoverinfo="skip",
                         marker=dict(color=GREY, size=[3 + 32 * v for v in ix3]),
                         xaxis="x3", yaxis="y3"))

panels = [("x", "y", obs_soft_top, obs_hard_top, 1.0),
          ("x2", "y2", obs_int_bl, obs_hard_bl, 0.95),
          ("x3", "y3", obs_int_br, obs_soft_br, 0.95)]
for xa, ya, xs, ys, scale in panels:
    for i, name in enumerate(obs_names):
        sym, col, size, lw = obs_style[i]
        fig.add_trace(go.Scatter(
            x=[xs[i]], y=[ys[i]], mode="markers", name=name,
            marker=dict(symbol=sym, color=col, size=size * scale,
                        line=dict(color=col, width=lw)),
            xaxis=xa, yaxis=ya))

# legend drawn in its own small frame
for i, name in enumerate(obs_names):
    sym, col, size, lw = obs_style[i]
    fig.add_trace(go.Scatter(
        x=[27], y=[leg_rows[i]], mode="markers", name=name,
        marker=dict(symbol=sym, color=col, size=size, line=dict(color=col, width=lw)),
        xaxis="x4", yaxis="y4"))

axis_base = dict(showline=True, linecolor="black", mirror="ticks", ticks="inside",
                 tickcolor="black", showgrid=False, zeroline=False)
hidden = dict(visible=False, showgrid=False, zeroline=False, fixedrange=True)

fig.update_layout(
    width=PAGE_W, height=H, autosize=False, showlegend=False,
    margin=dict(l=0, r=0, t=0, b=0),
    paper_bgcolor="white", plot_bgcolor="rgba(0,0,0,0)",
    xaxis=dict(axis_base, domain=[px(102), px(1065)], range=[0.88, 1.32],
               tickvals=soft_ticks, tickformat=".2f", linewidth=2.6, tickwidth=2,
               ticklen=10, tickfont=dict(family=TICKFONT, size=24, color="black"), anchor="y"),
    yaxis=dict(axis_base, domain=[py(599), py(7)], range=[0.55, 1.14],
               tickvals=hard_ticks, tickformat=".1f", linewidth=2.6, tickwidth=2,
               ticklen=10, tickfont=dict(family=TICKFONT, size=24, color="black"), anchor="x"),
    xaxis2=dict(axis_base, domain=[px(92), px(535)], range=[0, 0.30],
                tickvals=int_ticks, ticktext=int_ticktext, linewidth=2.6, tickwidth=2,
                ticklen=7, tickfont=dict(family=TICKFONT, size=19, color="black"), anchor="y2"),
    yaxis2=dict(axis_base, domain=[py(1086), py(706)], range=[0.55, 1.15],
                tickvals=hard_ticks, tickformat=".1f", linewidth=2.6, tickwidth=2,
                ticklen=7, tickfont=dict(family=TICKFONT, size=19, color="black"), anchor="x2"),
    xaxis3=dict(axis_base, domain=[px(636), px(1077)], range=[0, 0.30],
                tickvals=int_ticks, ticktext=int_ticktext, linewidth=2.6, tickwidth=2,
                ticklen=7, tickfont=dict(family=TICKFONT, size=19, color="black"), anchor="y3"),
    yaxis3=dict(axis_base, domain=[py(1086), py(706)], range=[0.93, 1.33],
                tickvals=soft_ticks_b, tickformat=".1f", linewidth=2.6, tickwidth=2,
                ticklen=7, tickfont=dict(family=TICKFONT, size=19, color="black"), anchor="x3"),
    xaxis4=dict(hidden, domain=[px(leg_px[0]), px(leg_px[2])],
                range=[0, leg_px[2] - leg_px[0]], anchor="y4"),
    yaxis4=dict(hidden, domain=[py(leg_px[3]), py(leg_px[1])],
                range=[leg_px[3] - leg_px[1], 0], anchor="x4"),
)

shapes = [rounded_box(*b, c) for b, c in zip(box_px, box_colors)]
shapes.append(dict(type="rect", xref="paper", yref="paper",
                   x0=px(leg_px[0]), x1=px(leg_px[2]), y0=py(leg_px[3]), y1=py(leg_px[1]),
                   line=dict(color="black", width=2.7), fillcolor="white", layer="below"))
fig.update_layout(shapes=shapes)

annotations = []
for (x0, y0, x1, y1), text in zip(box_px, box_texts):
    annotations.append(dict(x=px((x0 + x1) / 2), y=py((y0 + y1) / 2), xref="paper", yref="paper",
                            text=text, showarrow=False, xanchor="center", yanchor="middle",
                            font=dict(family=GILL, size=27, color="black")))

for i, name in enumerate(obs_names):
    annotations.append(dict(x=49, y=leg_rows[i], xref="x4", yref="y4", text=name,
                            showarrow=False, xanchor="left", yanchor="middle",
                            font=dict(family=TICKFONT, size=24, color="black")))

sa_labels = [("Sa=1", 1016, 107), ("Sa=2", 190, 481), ("Sa=2.5", 912, 466)]
for text, x, y in sa_labels:
    annotations.append(dict(x=px(x), y=py(y), xref="paper", yref="paper", text=text,
                            showarrow=False, xanchor="center", yanchor="middle",
                            font=dict(family=GILL, size=38, color="black")))

titles = [
    ("Soft colour (Crab)", 583, 654, 0, 25, False),
    ("Hard colour (Crab)", 20, 303, -90, 25, False),
    ("Intensity (Crab)", 313, 1127, 0, 19, True),
    ("Hard Colour (Crab)", 29, 896, -90, 19, True),
    ("Intensity (Crab)", 856, 1127, 0, 19, True),
    ("Soft Colour (Crab)", 573, 896, -90, 19, True),
]
for text, x, y, ang, size, bold in titles:
    annotations.append(dict(x=px(x), y=py(y), xref="paper", yref="paper",
                            text=f"<b>{text}</b>" if bold else text, textangle=ang,
                            showarrow=False, xanchor="center", yanchor="middle",
                            font=dict(family=TICKFONT, size=size, color="black")))
fig.update_layout(annotations=annotations)

fig.write_html(
    "out.html",
    config={"displayModeBar": False},
    post_script="document.body.style.margin='0';document.body.style.overflow='hidden';",
)
